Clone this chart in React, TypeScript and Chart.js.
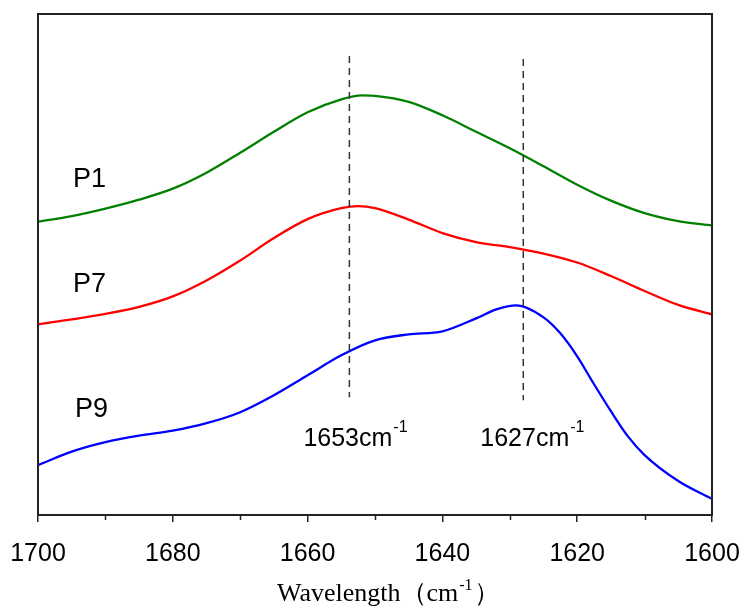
import React, { useEffect, useRef } from 'react';
import { Chart, registerables } from 'chart.js';

Chart.register(...registerables);

// Wavenumber (cm-1) and relative intensity (arbitrary units)
const p1Wavenumbers = [1700, 1695, 1690, 1685, 1680, 1675, 1670, 1665, 1660, 1655, 1652, 1650, 1645, 1640, 1635, 1630, 1625, 1620, 1615, 1610, 1605, 1600];
const p1Values = [294, 299.5, 307, 316, 327, 343, 363, 384, 403.5, 416.5, 420.5, 420, 414, 400.5, 384, 367.5, 349.5, 331, 315, 302.5, 294.5, 290];

const p7Wavenumbers = [1700, 1695, 1690, 1685, 1680, 1675, 1670, 1665, 1660, 1655, 1652.5, 1650, 1645, 1640, 1635, 1630, 1625, 1620, 1615, 1610, 1605, 1600];
const p7Values = [191, 196, 201.5, 208.5, 219, 235, 255, 277.5, 296.5, 307.5, 309.5, 307.5, 296, 282.5, 273.5, 268.5, 262, 253, 239.5, 224.5, 210.5, 201];

const p9Wavenumbers = [1700, 1695, 1690, 1685, 1680, 1675, 1670, 1665, 1660, 1655, 1650, 1645, 1640, 1635, 1632, 1629, 1625, 1622.5, 1620, 1617.5, 1615, 1612.5, 1610, 1605, 1600];
const p9Values = [50, 63.5, 73, 79.5, 84.5, 92, 103, 120, 140, 160, 175, 181, 184, 197, 206, 210, 198, 182, 159, 131, 104, 79, 60, 34, 16];

const seriesNames = ['P1', 'P7', 'P9'];
const seriesColors = ['#008000', '#ff0000', '#0000ff'];

const minorTickValues = [1690, 1670, 1650, 1630, 1610];
const peakPositions = [1653.8, 1628.0];
const peakLabels = ['1653', '1627'];

const SANS = '"Liberation Sans", Arial, sans-serif';
const SERIF = '"Liberation Serif", "Times New Roman", serif';

const toPoints = (xs: number[], ys: number[]) => xs.map((x, i) => ({ x, y: ys[i] }));

const decorPlugin = {
  id: 'decor',
  afterDraw(chart: any) {
    const { ctx, chartArea, scales } = chart;
    const xs = scales.x;
    const ys = scales.y;
    ctx.save();

    // frame
    ctx.strokeStyle = '#222';
    ctx.lineWidth = 2;
    ctx.strokeRect(chartArea.left, chartArea.top, chartArea.right - chartArea.left, chartArea.bottom - chartArea.top);

    // minor ticks
    ctx.lineWidth = 1.5;
    minorTickValues.forEach((v) => {
      const px = Math.round(xs.getPixelForValue(v)) + 0.5;
      ctx.beginPath();
      ctx.moveTo(px, chartArea.bottom);
      ctx.lineTo(px, chartArea.bottom + 5);
      ctx.stroke();
    });

    // dashed peak markers
    const dashSpans = [[460, 118], [457, 115]];
    ctx.strokeStyle = '#333';
    ctx.lineWidth = 1.5;
    ctx.setLineDash([7, 5]);
    peakPositions.forEach((v, i) => {
      const px = xs.getPixelForValue(v);
      ctx.beginPath();
      ctx.moveTo(px, ys.getPixelForValue(dashSpans[i][0]));
      ctx.lineTo(px, ys.getPixelForValue(dashSpans[i][1]));
      ctx.stroke();
    });
    ctx.setLineDash([]);

    // peak labels
    ctx.fillStyle = '#000';
    ctx.textBaseline = 'alphabetic';
    ctx.textAlign = 'left';
    const labelOffsets = [-46, -43];
    peakLabels.forEach((lab, i) => {
      const px = xs.getPixelForValue(peakPositions[i]) + labelOffsets[i];
      const base = ys.getPixelForValue(69);
      ctx.font = `25px ${SANS}`;
      const main = lab + 'cm';
      ctx.fillText(main, px, base);
      const w = ctx.measureText(main).width;
      ctx.font = `16px ${SANS}`;
      ctx.fillText('-1', px + w + 1, base - 14);
    });

    // series names
    const nameBaselines = [329, 223, 98];
    ctx.font = `27px ${SANS}`;
    seriesNames.forEach((n, i) => {
      ctx.fillText(n, xs.getPixelForValue(1694.8) + (i === 2 ? 2 : 0), ys.getPixelForValue(nameBaselines[i]));
    });

    // axis title
    const tLeft = chartArea.left + 239;
    const tBase = chartArea.bottom + 86;
    ctx.font = `26px ${SERIF}`;
    const part1 = 'Wavelength（cm';
    ctx.fillText(part1, tLeft, tBase);
    const w1 = ctx.measureText(part1).width;
    ctx.font = `16px ${SERIF}`;
    ctx.fillText('-1', tLeft + w1 + 1, tBase - 11);
    const w2 = ctx.measureText('-1').width;
    ctx.font = `26px ${SERIF}`;
    ctx.fillText('）', tLeft + w1 + w2 + 2, tBase);

    ctx.restore();
  },
};

export default function App() {
  const ref = useRef<HTMLCanvasElement | null>(null);

  useEffect(() => {
    document.body.style.margin = '0';
    if (!ref.current) return;
    const datasets = [
      toPoints(p1Wavenumbers, p1Values),
      toPoints(p7Wavenumbers, p7Values),
      toPoints(p9Wavenumbers, p9Values),
    ].map((data, i) => ({
      label: seriesNames[i],
      data,
      borderColor: seriesColors[i],
      backgroundColor: seriesColors[i],
      borderWidth: 2.3,
      pointRadius: 0,
      cubicInterpolationMode: 'monotone' as const,
      fill: false,
    }));

    const chart = new Chart(ref.current, {
      type: 'line',
      data: { datasets },
      options: {
        animation: false,
        responsive: false,
        maintainAspectRatio: false,
        layout: { padding: { left: 38, right: 33, top: 14, bottom: 24 } },
        plugins: { legend: { display: false }, tooltip: { enabled: false } },
        scales: {
          x: {
            type: 'linear',
            reverse: true,
            min: 1600,
            max: 1700,
            afterFit: (s: any) => {
              s.paddingLeft = 0;
              s.paddingRight = 0;
            },
            ticks: {
              stepSize: 20,
              color: '#000',
              padding: 17,
              maxRotation: 0,
              font: { family: SANS, size: 25 },
              callback: (v: any) => String(v),
            },
            grid: {
              drawOnChartArea: false,
              drawTicks: true,
              tickLength: 7,
              color: '#222',
              lineWidth: 1.5,
            },
            border: { display: true, color: '#222', width: 2 },
          },
          y: {
            display: false,
            min: 0,
            max: 502,
          },
        },
      },
      plugins: [decorPlugin],
    });
    return () => chart.destroy();
  }, []);

  return (
    <div style={{ width: 745, height: 610 }}>
      <canvas ref={ref} width={745} height={610} style={{ width: 745, height: 610, display: 'block' }} />
    </div>
  );
}
